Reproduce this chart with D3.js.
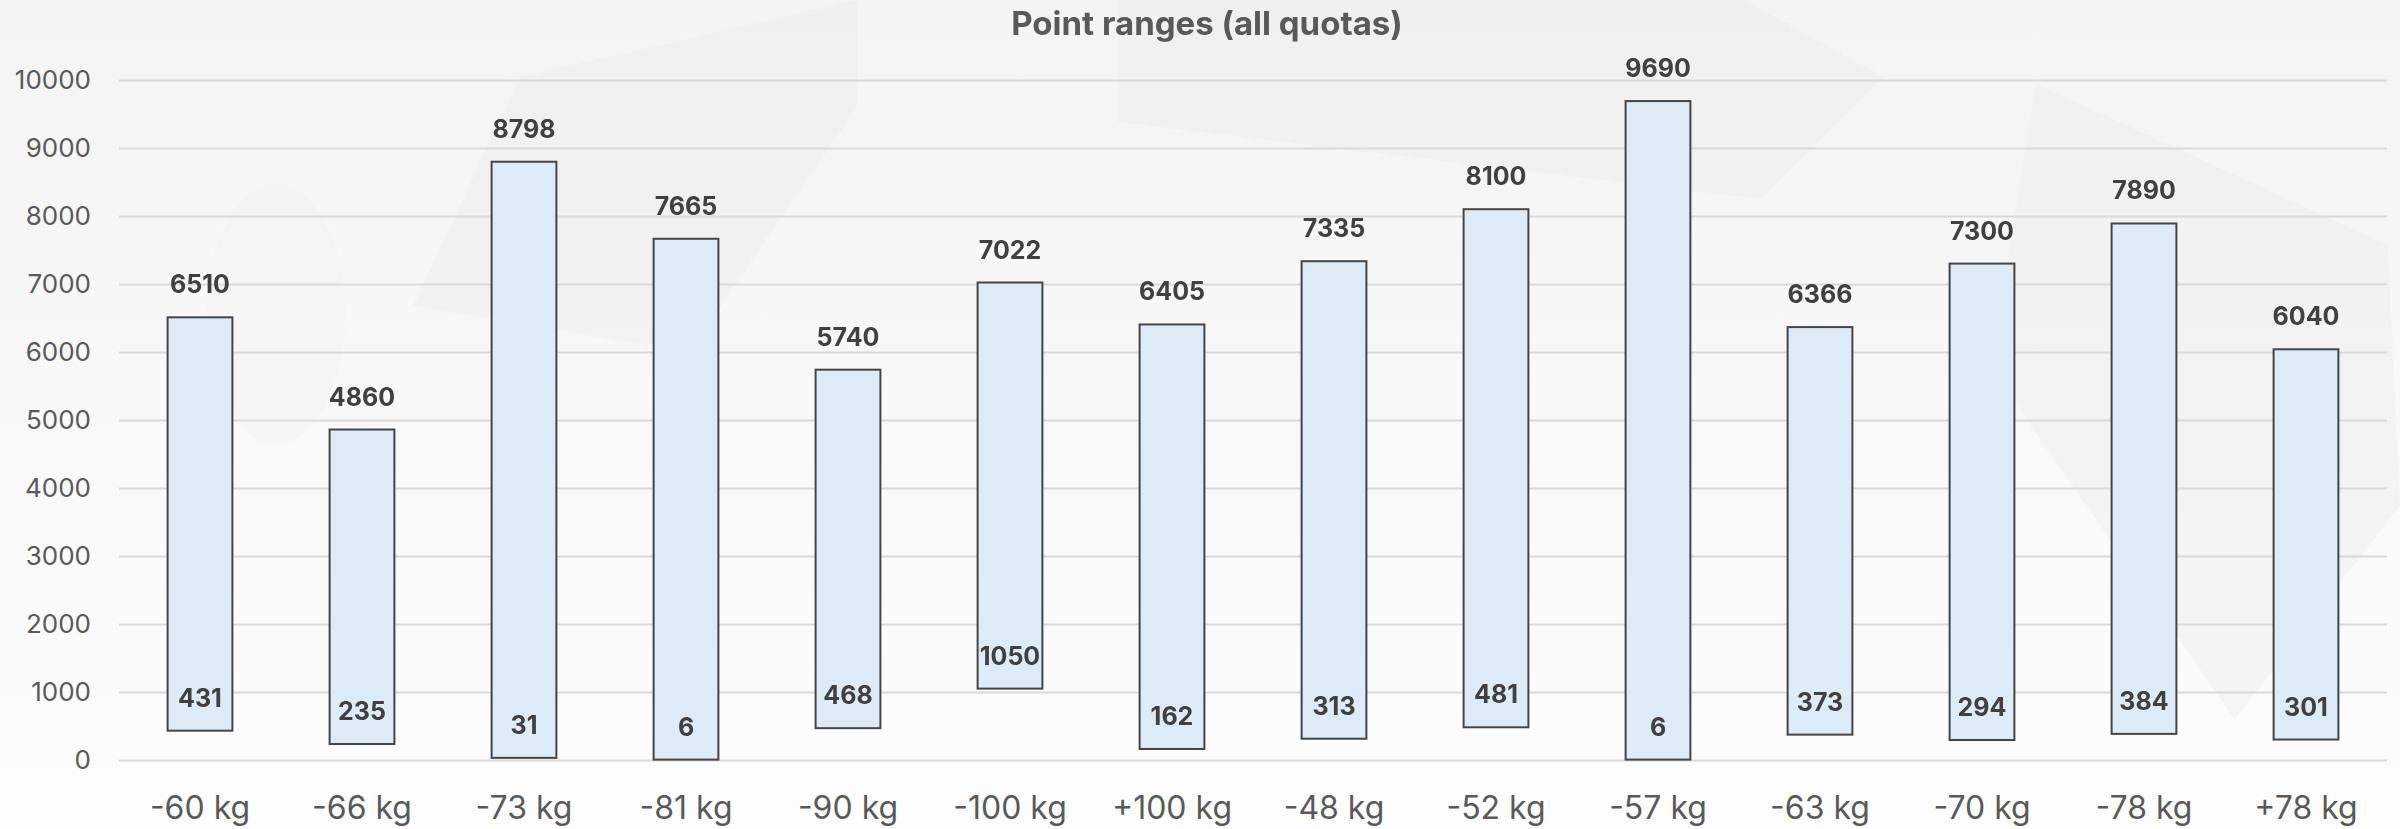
<!DOCTYPE html>
<html>
<head>
<meta charset="utf-8">
<script src="https://cdn.jsdelivr.net/npm/d3@7/dist/d3.min.js"></script>
<style>
  html, body { margin: 0; padding: 0; background: #fafafa; }
  svg { display: block; font-family: Inter, "Open Sans", sans-serif; }
</style>
</head>
<body>
<svg id="chart" width="2400" height="829"></svg>
<script>
// ---- data ----
const categories = ["-60 kg", "-66 kg", "-73 kg", "-81 kg", "-90 kg", "-100 kg", "+100 kg",
                    "-48 kg", "-52 kg", "-57 kg", "-63 kg", "-70 kg", "-78 kg", "+78 kg"];
const minPoints = [431, 235, 31, 6, 468, 1050, 162, 313, 481, 6, 373, 294, 384, 301];
const maxPoints = [6510, 4860, 8798, 7665, 5740, 7022, 6405, 7335, 8100, 9690, 6366, 7300, 7890, 6040];
const yTicks = [0, 1000, 2000, 3000, 4000, 5000, 6000, 7000, 8000, 9000, 10000];
const titleText = "Point ranges (all quotas)";

const W = 2400, H = 829;
const svg = d3.select("#chart");

// background
const defs = svg.append("defs");
const grad = defs.append("linearGradient").attr("id", "bg").attr("x1", 0).attr("y1", 0).attr("x2", 0).attr("y2", 1);
grad.append("stop").attr("offset", "0%").attr("stop-color", "#f4f4f4");
grad.append("stop").attr("offset", "100%").attr("stop-color", "#fdfdfd");
svg.append("rect").attr("width", W).attr("height", H).attr("fill", "url(#bg)");

// faint decorative background shapes
const deco = svg.append("g").attr("fill", "#ececec").attr("opacity", 0.4);
[
  [[520,77],[857,0],[857,107],[689,352],[413,306]],
  [[1118,0],[1745,0],[1883,77],[1761,199],[1118,122]],
  [[2036,84],[2388,245],[2400,505],[2235,720],[1990,367]]
].forEach(p => deco.append("path").attr("d", d3.line()(p) + "Z"));
deco.append("ellipse").attr("cx", 276).attr("cy", 314).attr("rx", 69).attr("ry", 130).attr("opacity", 0.6);

// scales
const x = d3.scaleBand().domain(categories).range([119, 2387]).paddingInner(0.6).paddingOuter(0.3);
const y = d3.scaleLinear().domain([0, 10000]).range([760, 80]);

// gridlines
svg.append("g")
  .attr("transform", "translate(119,0)")
  .call(d3.axisLeft(y).tickValues(yTicks).tickSize(-(2387 - 119)).tickFormat(""))
  .call(g => g.select(".domain").remove())
  .call(g => g.selectAll("line").attr("stroke", "#d9d9d9").attr("stroke-width", 2));

// y tick labels
svg.append("g")
  .attr("transform", "translate(91,0)")
  .call(d3.axisLeft(y).tickValues(yTicks).tickSize(0).tickPadding(0).tickFormat(d3.format("d")))
  .call(g => g.select(".domain").remove())
  .call(g => g.selectAll("text").attr("fill", "#595959").attr("font-size", 26)
     .attr("font-family", "Inter, sans-serif"));

// x labels
svg.append("g")
  .attr("transform", "translate(0,760)")
  .call(d3.axisBottom(x).tickSize(0).tickPadding(36))
  .call(g => g.select(".domain").remove())
  .call(g => g.selectAll("text").attr("fill", "#595959").attr("font-size", 32)
     .attr("font-family", "Inter, sans-serif"));

const rows = categories.map((c, i) => ({ c, lo: minPoints[i], hi: maxPoints[i] }));

// bars
svg.append("g").selectAll("rect").data(rows).join("rect")
  .attr("x", d => x(d.c))
  .attr("width", x.bandwidth())
  .attr("y", d => y(d.hi))
  .attr("height", d => y(d.lo) - y(d.hi))
  .attr("fill", "#ddebf7")
  .attr("stroke", "#454545")
  .attr("stroke-width", 2);

// labels
const lab = svg.append("g").attr("font-weight", 700).attr("font-size", 25)
  .attr("fill", "#404040").attr("text-anchor", "middle");
lab.selectAll("text.hi").data(rows).join("text").attr("class", "hi")
  .attr("x", d => x(d.c) + x.bandwidth() / 2)
  .attr("y", d => y(d.hi) - 24)
  .text(d => d.hi);
lab.selectAll("text.lo").data(rows).join("text").attr("class", "lo")
  .attr("x", d => x(d.c) + x.bandwidth() / 2)
  .attr("y", d => y(d.lo) - 24)
  .text(d => d.lo);

// title
svg.append("text")
  .attr("x", 1207).attr("y", 35)
  .attr("text-anchor", "middle")
  .attr("font-size", 33).attr("font-weight", 700)
  .attr("fill", "#595959")
  .text(titleText);
</script>
</body>
</html>
